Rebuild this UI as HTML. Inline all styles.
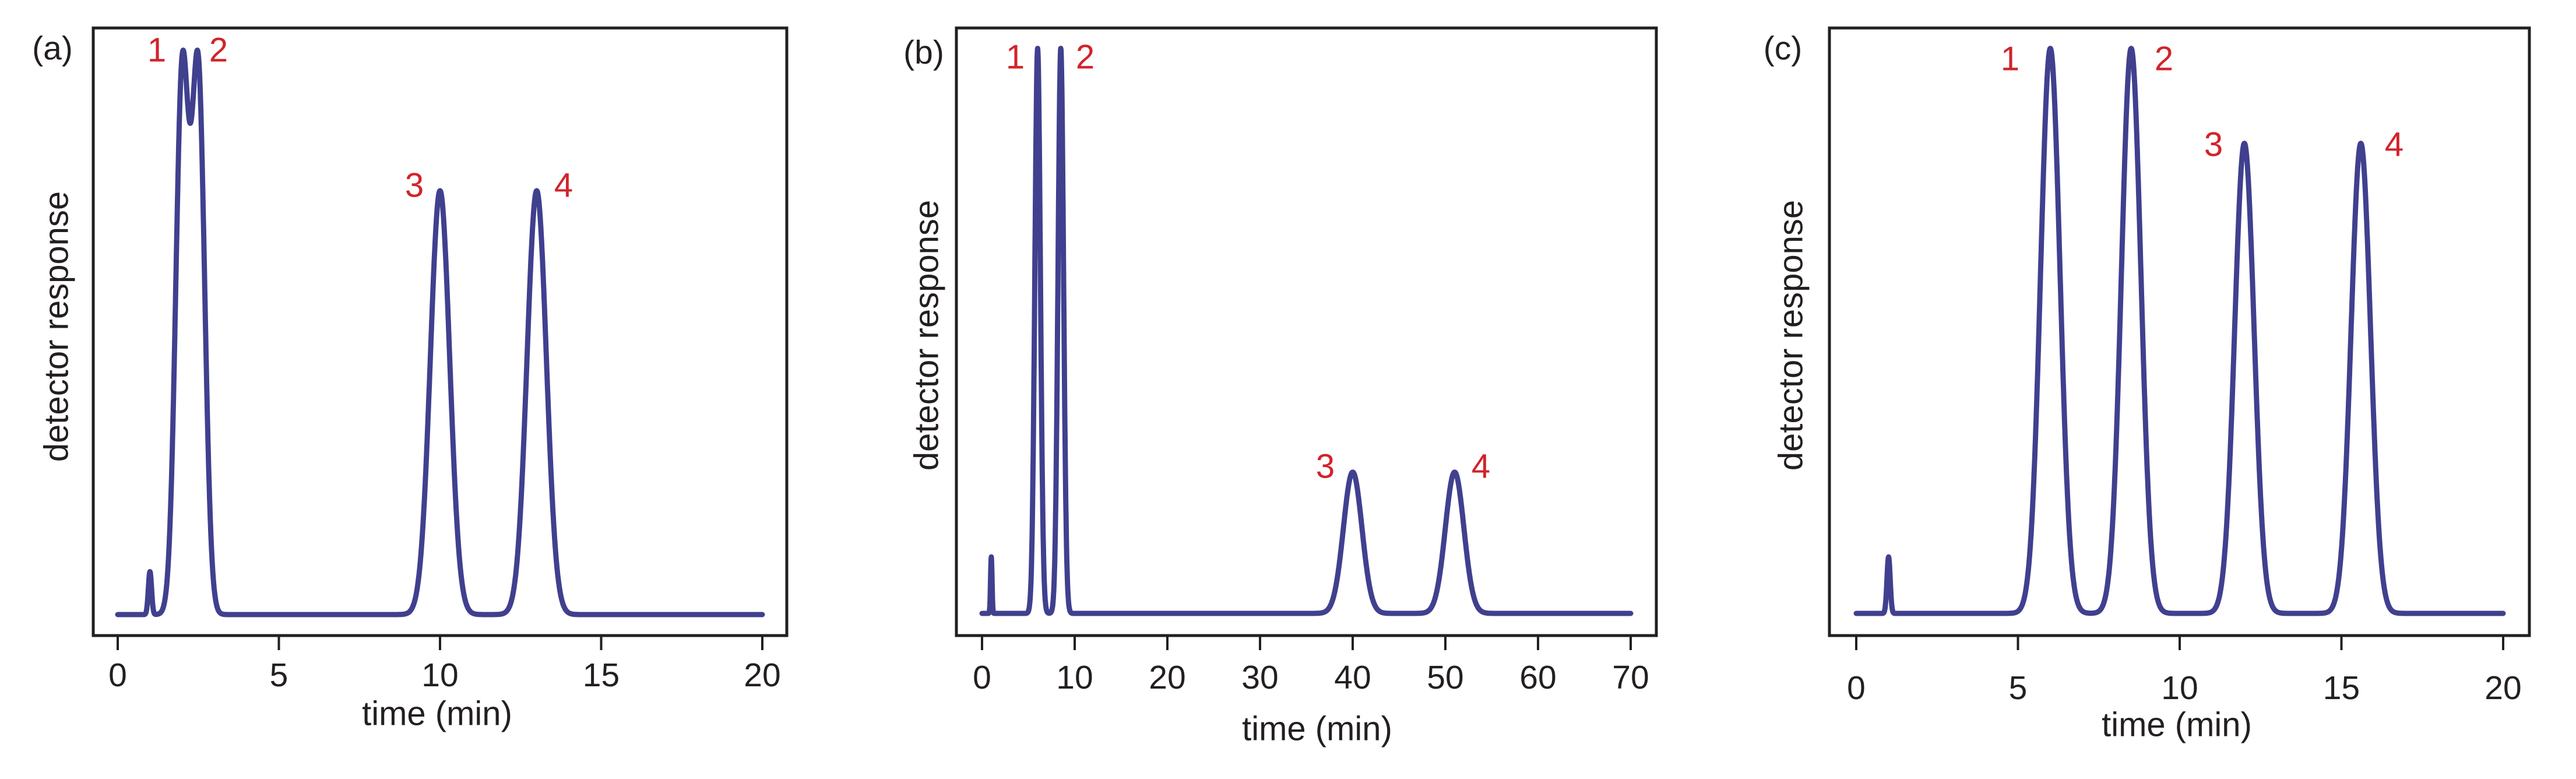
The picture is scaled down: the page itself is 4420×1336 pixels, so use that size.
<!DOCTYPE html>
<html><head><meta charset="utf-8"><style>
html,body{margin:0;padding:0;background:#fff}
svg{display:block}
text{font-family:"Liberation Sans",sans-serif;fill:#231f20}
.t{font-size:57px;text-anchor:middle;dominant-baseline:central}
.y{font-size:58px;text-anchor:middle;dominant-baseline:central}
.r{fill:#d2232a;font-size:58px;text-anchor:middle;dominant-baseline:central}
.box{fill:none;stroke:#231f20;stroke-width:5}
.tk{stroke:#231f20;stroke-width:4}
.ln{fill:none;stroke:#40408f;stroke-width:9;stroke-linejoin:round;stroke-linecap:round}
</style></head><body>
<svg id="s" width="4420" height="1336" viewBox="0 0 4420 1336" xmlns="http://www.w3.org/2000/svg">
<!-- panel a -->
<rect class="box" x="160" y="48" width="1190" height="1042"/>
<g class="tk"><line x1="202" y1="1090" x2="202" y2="1115"/><line x1="478.5" y1="1090" x2="478.5" y2="1115"/><line x1="755" y1="1090" x2="755" y2="1115"/><line x1="1031.5" y1="1090" x2="1031.5" y2="1115"/><line x1="1308" y1="1090" x2="1308" y2="1115"/></g>
<text class="t" x="202" y="1158">0</text><text class="t" x="478.5" y="1158">5</text><text class="t" x="755" y="1158">10</text><text class="t" x="1031.5" y="1158">15</text><text class="t" x="1308" y="1158">20</text>
<text class="y" x="750" y="1224">time (min)</text>
<text class="y" x="97" y="560" transform="rotate(-90 97 560)">detector response</text>
<text class="t" x="90" y="83">(a)</text>
<text class="r" x="269" y="86">1</text><text class="r" x="375" y="86">2</text><text class="r" x="711" y="318">3</text><text class="r" x="967" y="318">4</text>
<path id="pa" class="ln"/>
<!-- panel b -->
<rect class="box" x="1641" y="48" width="1201" height="1042"/>
<g class="tk" id="tb"></g>
<text class="t" x="1685" y="1162">0</text><text class="t" x="1844" y="1162">10</text><text class="t" x="2003" y="1162">20</text><text class="t" x="2162" y="1162">30</text><text class="t" x="2321" y="1162">40</text><text class="t" x="2480" y="1162">50</text><text class="t" x="2639" y="1162">60</text><text class="t" x="2798" y="1162">70</text>
<text class="y" x="2260" y="1250">time (min)</text>
<text class="y" x="1590" y="575" transform="rotate(-90 1590 575)">detector response</text>
<text class="t" x="1585" y="90">(b)</text>
<text class="r" x="1742" y="98">1</text><text class="r" x="1862" y="98">2</text><text class="r" x="2274" y="800">3</text><text class="r" x="2541" y="800">4</text>
<path id="pb" class="ln"/>
<!-- panel c -->
<rect class="box" x="3139" y="48" width="1201" height="1042"/>
<g class="tk"><line x1="3185" y1="1090" x2="3185" y2="1115"/><line x1="3462.5" y1="1090" x2="3462.5" y2="1115"/><line x1="3740" y1="1090" x2="3740" y2="1115"/><line x1="4017.5" y1="1090" x2="4017.5" y2="1115"/><line x1="4295" y1="1090" x2="4295" y2="1115"/></g>
<text class="t" x="3185" y="1180">0</text><text class="t" x="3462.5" y="1180">5</text><text class="t" x="3740" y="1180">10</text><text class="t" x="4017.5" y="1180">15</text><text class="t" x="4295" y="1180">20</text>
<text class="y" x="3735" y="1243">time (min)</text>
<text class="y" x="3073" y="575" transform="rotate(-90 3073 575)">detector response</text>
<text class="t" x="3059" y="83">(c)</text>
<text class="r" x="3449" y="101">1</text><text class="r" x="3713" y="101">2</text><text class="r" x="3798" y="248">3</text><text class="r" x="4108" y="248">4</text>
<path id="pc" class="ln"/>
</svg>
<script>
function mk(id,x0,ppm,tmax,base,top,peaks,step){
  var pts=[],mx=0;
  for(var t=0;t<=tmax+1e-9;t+=step){
    var v=0;
    for(var i=0;i<peaks.length;i++){var p=peaks[i];var z=(t-p[0])/p[2];v+=p[1]*Math.exp(-0.5*z*z);}
    pts.push([t,v]);if(v>mx)mx=v;
  }
  var sc=(base-top)/mx,d="";
  for(var j=0;j<pts.length;j++){var x=x0+pts[j][0]*ppm,y=base-pts[j][1]*sc;d+=(j?"L":"M")+x.toFixed(1)+" "+y.toFixed(1);}
  document.getElementById(id).setAttribute("d",d);
}
mk("pa",202,55.3,20,1054,86,[[1,0.08,0.05],[2,1,0.2],[2.5,1,0.2],[10,0.79,0.3],[13,0.79,0.3]],0.01);
mk("pb",1685,15.9,70,1052,83,[[1,0.1,0.08],[6,1,0.3],[8.5,1,0.3],[40,0.25,1.0],[51,0.25,1.0]],0.02);
mk("pc",3185,55.5,20,1052,83,[[1,0.1,0.05],[6,1,0.3],[8.5,1,0.3],[12,0.832,0.3],[15.6,0.832,0.3]],0.01);
var g=document.getElementById("tb");
for(var k=0;k<=7;k++){var l=document.createElementNS("http://www.w3.org/2000/svg","line");var x=1685+k*159;l.setAttribute("x1",x);l.setAttribute("x2",x);l.setAttribute("y1",1090);l.setAttribute("y2",1115);g.appendChild(l);}
</script>
</body></html>
